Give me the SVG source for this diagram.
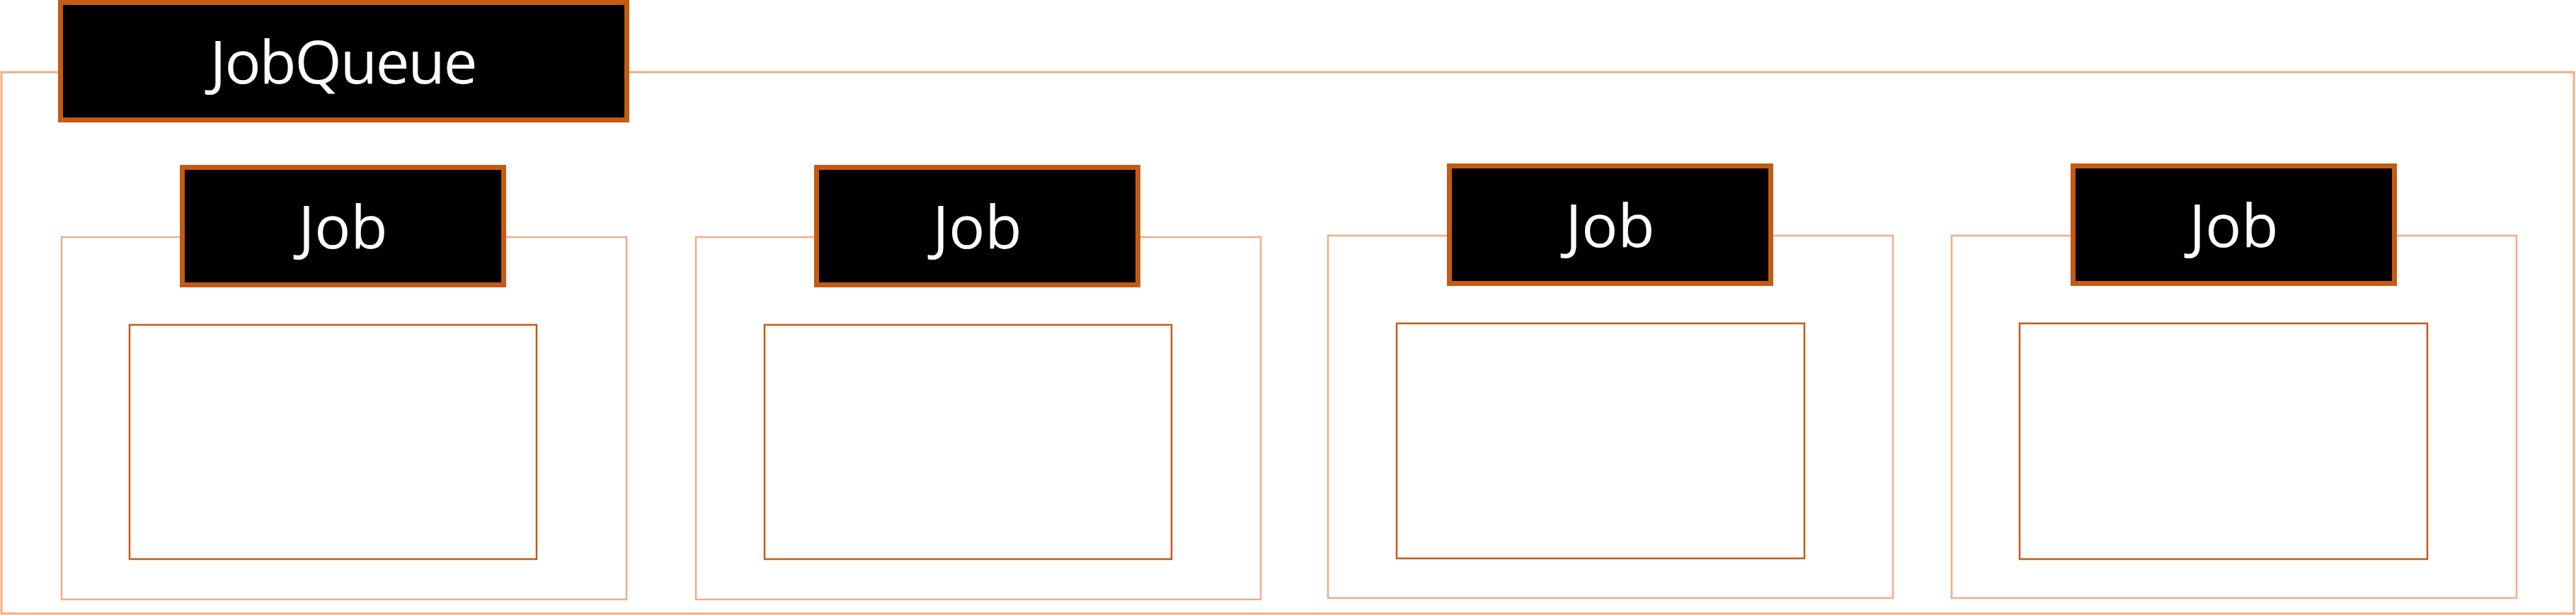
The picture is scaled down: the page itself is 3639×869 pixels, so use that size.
<svg xmlns="http://www.w3.org/2000/svg" width="3639" height="869" viewBox="0 0 3639 869">
  <style>
    .frame { fill: none; stroke: #F4AC84; stroke-width: 3; }
    .container { fill: none; stroke: #F4AC84; stroke-width: 2.5; }
    .inner { fill: #FFFFFF; stroke: #C55A11; stroke-width: 2.5; }
    .label { fill: #000000; stroke: #C55A11; stroke-width: 7; }
    .txt { fill: #FFFFFF; font-family: "Open Sans", "Noto Sans", "Liberation Sans", sans-serif; font-weight: 400; font-size: 85px; text-anchor: middle; }
    .wide { letter-spacing: -2px; }
  </style>
  <rect width="3639" height="869" fill="#FFFFFF"/>

  <g id="jobqueue">
    <rect class="frame" x="2" y="102" width="3634" height="765"/>
    <rect class="label" x="85.5" y="3.5" width="800" height="166"/>
    <text class="txt wide" x="484.5" y="118">JobQueue</text>
  </g>

  <g id="job1">
    <rect class="container" x="87" y="335" width="798" height="512"/>
    <rect class="inner" x="183" y="459" width="575" height="331"/>
    <rect class="label" x="257.5" y="236.5" width="454" height="166"/>
    <text class="txt" x="484.5" y="351">Job</text>
  </g>

  <g id="job2">
    <rect class="container" x="983" y="335" width="798" height="512"/>
    <rect class="inner" x="1080" y="459" width="575" height="331"/>
    <rect class="label" x="1153.5" y="236.5" width="454" height="166"/>
    <text class="txt" x="1380.5" y="351">Job</text>
  </g>

  <g id="job3">
    <rect class="container" x="1876" y="333" width="798" height="512"/>
    <rect class="inner" x="1973" y="457" width="576" height="332"/>
    <rect class="label" x="2047.5" y="234.5" width="454" height="166"/>
    <text class="txt" x="2274.5" y="349">Job</text>
  </g>

  <g id="job4">
    <rect class="container" x="2757" y="333" width="798" height="512"/>
    <rect class="inner" x="2853" y="457" width="576" height="333"/>
    <rect class="label" x="2928.5" y="234.5" width="454" height="166"/>
    <text class="txt" x="3155.5" y="349">Job</text>
  </g>

  <g id="connectors"/>
</svg>
